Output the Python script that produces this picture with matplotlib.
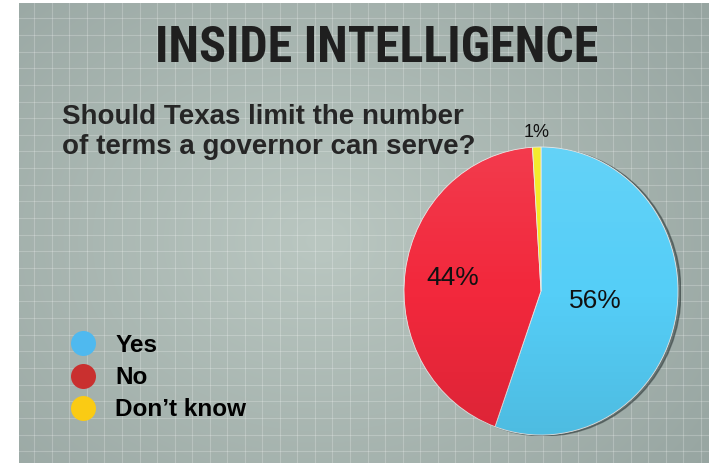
import numpy as np
import matplotlib
matplotlib.use("Agg")
import matplotlib.pyplot as plt
from matplotlib.lines import Line2D
from matplotlib.patches import Circle

# data
categories = ["Yes", "No", "Don\u2019t know"]
values = [56, 44, 1]
pct_labels = ["56%", "44%", "1%"]
pie_colors = ["#55CEF7", "#F2283C", "#F4E91C"]
legend_colors = ["#4FB9EF", "#C9302F", "#FACB14"]

title = "INSIDE INTELLIGENCE"
question = "Should Texas limit the number\nof terms a governor can serve?"

W, H = 709, 463
fig = plt.figure(figsize=(W / 100, H / 100), dpi=100)
fig.set_facecolor("white")

# background panel: radial gradient + light grid
bg = fig.add_axes([19 / W, 0, (W - 19) / W, (H - 3) / H])
bg.set_xlim(19, W)
bg.set_ylim(H, 3)
bg.axis("off")
yy, xx = np.mgrid[3:H, 19:W]
d = np.sqrt(((xx - 320) / 470.0) ** 2 + ((yy - 240) / 370.0) ** 2)
d = np.clip(d, 0, 1)
c_in = np.array([186, 199, 193]) / 255.0
c_out = np.array([152, 166, 162]) / 255.0
img = c_in[None, None, :] * (1 - d[..., None]) + c_out[None, None, :] * d[..., None]
bg.imshow(img, extent=[19, W, H, 3], aspect="auto", zorder=0)
for gx in np.arange(34.3 - 17.54, W, 17.54):
    bg.axvline(gx, color="white", alpha=0.22, lw=0.8, zorder=1)
for gy in np.arange(18.3 - 16.65, H, 16.65):
    bg.axhline(gy, color="white", alpha=0.22, lw=0.8, zorder=1)

fig.text(377 / W, 1 - 48 / H, title, ha="center", va="center",
         fontsize=36, fontweight="bold", fontstretch="condensed", color="#1f1f1f",
         family=["Roboto Condensed", "Liberation Sans Narrow", "DejaVu Sans Condensed",
                 "Roboto", "DejaVu Sans"])
fig.text(62 / W, 1 - 132 / H, question, ha="left", va="center",
         fontsize=20, fontweight="bold", color="#262626",
         family=["Liberation Sans", "DejaVu Sans"], linespacing=1.2)

# pie
pl, pr, pt, pb = 404, 678, 147, 435
shadow = fig.add_axes([(pl + 3) / W, 1 - (pb + 1) / H, (pr - pl) / W, (pb - pt) / H])
shadow.set_xlim(-1, 1)
shadow.set_ylim(-1, 1)
shadow.axis("off")
shadow.add_patch(Circle((0, 0), 1, color="#2f3a3a", alpha=0.5))

ax = fig.add_axes([pl / W, 1 - pb / H, (pr - pl) / W, (pb - pt) / H])
wedges, _ = ax.pie(values, colors=pie_colors, startangle=90, counterclock=False,
                   wedgeprops=dict(edgecolor="#e8e8e8", linewidth=0.6))
ax.set_aspect("auto")
ax.set_xlim(-1, 1)
ax.set_ylim(-1, 1)

# soft top-to-bottom shading on the pie
shade = np.linspace(1, 0, 256).reshape(-1, 1)
sh_img = np.zeros((256, 1, 4))
sh_img[..., :3] = np.where(shade > 0.5, 1.0, 0.0)[..., None]
sh_img[..., 3] = np.abs(shade - 0.5) * 0.18
clip = Circle((0, 0), 1, transform=ax.transData)
im = ax.imshow(sh_img, extent=[-1, 1, -1, 1], aspect="auto", zorder=3)
im.set_clip_path(clip)
ax.set_xlim(-1, 1)
ax.set_ylim(-1, 1)

dists = [0.40, 0.65, 1.10]
sizes = [19, 19, 13]
for w, lab, r, fs in zip(wedges, pct_labels, dists, sizes):
    ang = np.deg2rad((w.theta1 + w.theta2) / 2)
    ax.text(r * np.cos(ang), r * np.sin(ang), lab, ha="center", va="center",
            fontsize=fs, color="#111111", zorder=4,
            family=["Liberation Sans", "DejaVu Sans"])

# legend
handles = [Line2D([], [], linestyle="", marker="o", markersize=18,
                  markerfacecolor=c, markeredgecolor="none") for c in legend_colors]
fig.legend(handles, categories, loc="upper left", bbox_to_anchor=(71 / W, 1 - 334 / H),
           frameon=False, handlelength=1.0, handletextpad=0.82, labelspacing=0.38,
           borderpad=0, borderaxespad=0,
           prop=dict(family="Liberation Sans", weight="bold", size=17.5))

fig.savefig("out.png", dpi=100)
